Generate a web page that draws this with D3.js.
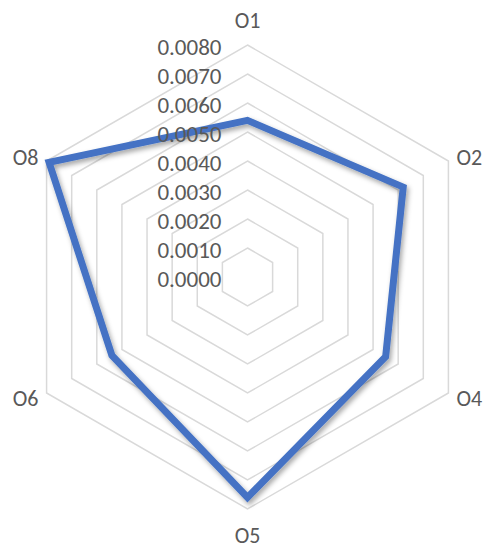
<!DOCTYPE html>
<html>
<head>
<meta charset="utf-8">
<script src="https://cdn.jsdelivr.net/npm/d3@7"></script>
<style>
  body { margin: 0; background: #fff; }
  text { font-family: Calibri, Carlito, Lato, sans-serif; fill: #595959; }
</style>
</head>
<body>
<div id="chart"></div>
<script>
// ===== Données =====
const axes = ["O1", "O2", "O4", "O5", "O6", "O8"];
const values = [0.0054, 0.0062, 0.0055, 0.0076, 0.0054, 0.0079];
const ticks = [0.001, 0.002, 0.003, 0.004, 0.005, 0.006, 0.007, 0.008];
const tickLabels = [0, 0.001, 0.002, 0.003, 0.004, 0.005, 0.006, 0.007, 0.008];

const W = 494, H = 550;
const cx = 247.5, cy = 277;
const R = 232;

const svg = d3.select("#chart").append("svg")
  .attr("width", W).attr("height", H);

// ombre de la ligne
const defs = svg.append("defs");
defs.append("filter").attr("id", "shadow")
  .attr("x", "-20%").attr("y", "-20%").attr("width", "140%").attr("height", "140%")
  .append("feDropShadow")
  .attr("dx", 2).attr("dy", 3).attr("stdDeviation", 2.5)
  .attr("flood-color", "#000").attr("flood-opacity", 0.35);

const r = d3.scaleLinear().domain([0, 0.008]).range([0, R]);
const angle = d3.scalePoint().domain(axes).range([0, 2 * Math.PI * (axes.length - 1) / axes.length]);

const g = svg.append("g").attr("transform", `translate(${cx},${cy})`);

// ===== Grille hexagonale =====
const ring = d3.lineRadial()
  .angle((d) => angle(d))
  .curve(d3.curveLinearClosed);

g.selectAll("path.grid")
  .data(ticks)
  .enter()
  .append("path")
  .attr("class", "grid")
  .attr("d", (t) => ring.radius(r(t))(axes))
  .attr("fill", "none")
  .attr("stroke", "#d9d9d9")
  .attr("stroke-width", 1.5);

// ===== Série =====
const line = d3.lineRadial()
  .angle((d, i) => angle(axes[i]))
  .radius((d) => r(d))
  .curve(d3.curveLinearClosed);

g.append("path")
  .datum(values)
  .attr("d", line)
  .attr("fill", "none")
  .attr("stroke", "#4472c4")
  .attr("stroke-width", 7)
  .attr("stroke-linejoin", "miter")
  .attr("filter", "url(#shadow)");

// ===== Étiquettes des graduations =====
g.selectAll("text.tick")
  .data(tickLabels)
  .enter()
  .append("text")
  .attr("class", "tick")
  .attr("x", -26)
  .attr("y", (d) => -r(d) + 2)
  .attr("dy", "0.35em")
  .attr("text-anchor", "end")
  .style("font-size", "23px")
  .text((d) => d.toFixed(4));

// ===== Étiquettes des axes =====
const labelPos = {
  O1: { x: 0, y: -257, anchor: "middle" },
  O2: { x: 209, y: -120, anchor: "start" },
  O4: { x: 209, y: 121, anchor: "start" },
  O5: { x: 0, y: 258, anchor: "middle" },
  O6: { x: -209, y: 121, anchor: "end" },
  O8: { x: -209, y: -120, anchor: "end" }
};

g.selectAll("text.axis")
  .data(axes)
  .enter()
  .append("text")
  .attr("class", "axis")
  .attr("x", (d) => labelPos[d].x)
  .attr("y", (d) => labelPos[d].y)
  .attr("dy", "0.35em")
  .attr("text-anchor", (d) => labelPos[d].anchor)
  .style("font-size", "22px")
  .text((d) => d);
</script>
</body>
</html>
